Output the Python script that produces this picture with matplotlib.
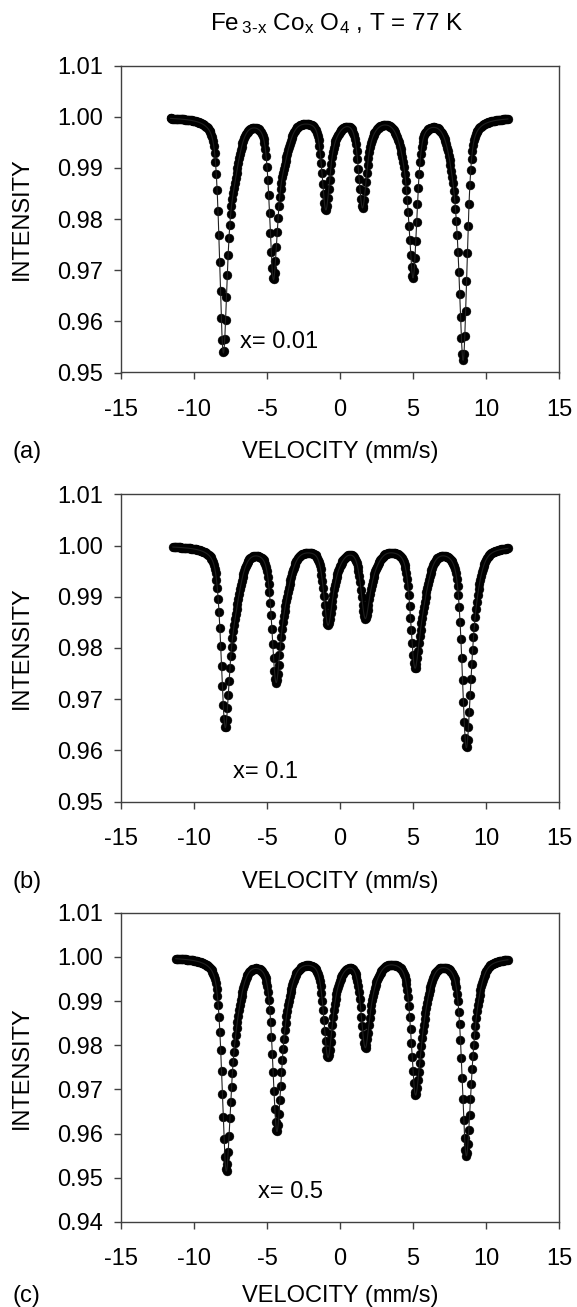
import numpy as np
import matplotlib
matplotlib.rcParams["font.family"] = ["Liberation Sans", "DejaVu Sans"]
matplotlib.rcParams["mathtext.fontset"] = "custom"
matplotlib.rcParams["mathtext.rm"] = "Liberation Sans"
matplotlib.rcParams["mathtext.it"] = "Liberation Sans"
matplotlib.rcParams["axes.unicode_minus"] = False
import matplotlib.pyplot as plt
from matplotlib.ticker import FormatStrFormatter

# Mossbauer spectra of Fe(3-x)Co(x)O4 at 77 K.
# Each spectrum is drawn from its fitted lines: a sharp sextet (positions and
# minimum intensities read at the line tips) plus a broad sextet (shoulders).
PANELS = ["(a)", "(b)", "(c)"]
COMPOSITION = ["x= 0.01", "x= 0.1", "x= 0.5"]
LABEL_POS_V = [-6.85, -7.35, -5.64]
LABEL_POS_I = [0.956, 0.9558, 0.9468]

VEL_START = [-11.6, -11.45, -11.25]
VEL_END = [11.5, 11.5, 11.5]
N_CHANNELS = 400

# line tip positions (mm/s) and intensity at the tip
TIP_POS_A = [-8.00, -4.57, -0.98, 1.53, 5.02, 8.45]
TIP_MIN_A = [0.9539, 0.9682, 0.9818, 0.9822, 0.9686, 0.9525]
BROAD_POS_A = [-7.40, -4.00, -0.55, 1.85, 4.65, 8.00]
BROAD_DEPTH_A = [0.011, 0.008, 0.003, 0.003, 0.008, 0.011]

TIP_POS_B = [-7.88, -4.40, -0.84, 1.71, 5.10, 8.63]
TIP_MIN_B = [0.9646, 0.9734, 0.9845, 0.9858, 0.9763, 0.9607]
BROAD_POS_B = [-7.30, -3.87, -0.43, 2.14, 5.57, 9.00]
BROAD_DEPTH_B = [0.011, 0.009, 0.004, 0.004, 0.010, 0.011]

TIP_POS_C = [-7.81, -4.34, -0.84, 1.71, 5.14, 8.63]
TIP_MIN_C = [0.9517, 0.9606, 0.9773, 0.9795, 0.9690, 0.9552]
BROAD_POS_C = [-7.30, -3.87, -0.43, 2.14, 5.57, 9.00]
BROAD_DEPTH_C = [0.013, 0.010, 0.005, 0.005, 0.012, 0.013]

SHARP_WIDTH = [0.60, 0.65, 0.65]
BROAD_WIDTH = [1.1, 1.1, 1.1]
LORENTZ_FRACTION = 0.5

Y_LIMS = [(0.95, 1.01), (0.95, 1.01), (0.94, 1.01)]

TIP_POS = [TIP_POS_A, TIP_POS_B, TIP_POS_C]
TIP_MIN = [TIP_MIN_A, TIP_MIN_B, TIP_MIN_C]
BROAD_POS = [BROAD_POS_A, BROAD_POS_B, BROAD_POS_C]
BROAD_DEPTH = [BROAD_DEPTH_A, BROAD_DEPTH_B, BROAD_DEPTH_C]


def line(v, p, width):
    # pseudo-Voigt line of unit depth
    dv = np.asarray(v) - p
    hw2 = (width / 2) ** 2
    lor = hw2 / (dv ** 2 + hw2)
    gau = np.exp(-4 * np.log(2) * (dv / width) ** 2)
    return LORENTZ_FRACTION * lor + (1 - LORENTZ_FRACTION) * gau


def broad_part(v, i):
    return sum(d * line(v, p, BROAD_WIDTH[i])
               for p, d in zip(BROAD_POS[i], BROAD_DEPTH[i]))


def sharp_depths(i):
    # sharp line depths chosen so the fitted curve goes through the tips
    pos = np.array(TIP_POS[i])
    target = 1.0 - np.array(TIP_MIN[i]) - broad_part(pos, i)
    m = np.array([[line(pi, pj, SHARP_WIDTH[i]) for pj in pos] for pi in pos])
    return np.linalg.solve(m, target)


def intensity(v, i, depths):
    sharp = sum(d * line(v, p, SHARP_WIDTH[i])
                for p, d in zip(TIP_POS[i], depths))
    return 1.0 - sharp - broad_part(v, i)


W, H = 577, 1307
fig = plt.figure(figsize=(W / 100, H / 100), dpi=100)

# axes boxes in pixels: (left, top, right, bottom)
boxes = [(121, 65.7, 559, 372.5), (121, 494.3, 559, 801.7), (121, 912.7, 559, 1222)]
xlabel_gap = [69, 69, 63]
FS = 17
AXC = "#404040"

for i, (l, t, r, b) in enumerate(boxes):
    ax = fig.add_axes([l / W, 1 - b / H, (r - l) / W, (b - t) / H])
    depths = sharp_depths(i)
    v_ch = np.linspace(VEL_START[i], VEL_END[i], N_CHANNELS)
    v_fine = np.linspace(VEL_START[i], VEL_END[i], 6000)
    ax.plot(v_ch, intensity(v_ch, i, depths), "o", color="black", ms=6.4,
            mec="black", mew=0.3, zorder=2)
    ax.plot(v_fine, intensity(v_fine, i, depths), color="#202020", lw=0.8,
            zorder=3)

    ax.set_xlim(-15, 15)
    ax.set_ylim(*Y_LIMS[i])
    ax.set_xticks(np.arange(-15, 16, 5))
    ax.set_yticks(np.arange(Y_LIMS[i][0], Y_LIMS[i][1] + 1e-6, 0.01))
    ax.yaxis.set_major_formatter(FormatStrFormatter("%.2f"))
    ax.tick_params(direction="out", length=5, width=1, color=AXC,
                   labelsize=FS)
    ax.tick_params(axis="x", pad=14)
    ax.tick_params(axis="y", pad=8)
    for sp in ax.spines.values():
        sp.set_color(AXC)
        sp.set_linewidth(1)

    ax.set_ylabel("INTENSITY", fontsize=FS)
    ax.yaxis.set_label_coords(-0.201, 0.5)
    ax.set_xlabel("VELOCITY (mm/s)", fontsize=FS, va="top")
    ax.xaxis.set_label_coords(0.5, -xlabel_gap[i] / (b - t))
    ax.text(-108 / (r - l), -xlabel_gap[i] / (b - t), PANELS[i],
            transform=ax.transAxes, ha="left", va="top", fontsize=FS)
    ax.text(LABEL_POS_V[i], LABEL_POS_I[i], COMPOSITION[i],
            ha="left", va="center", fontsize=FS)

fig.text(337 / W, 1 - 24 / H,
         "Fe$_{\\mathrm{\u20093\u2010x}}$ Co$_{\\mathrm{x}}$ O$_{\\mathrm{4}}$ , T = 77 K",
         ha="center", va="center", fontsize=FS + 0.5)

fig.savefig("out.png", dpi=100)
